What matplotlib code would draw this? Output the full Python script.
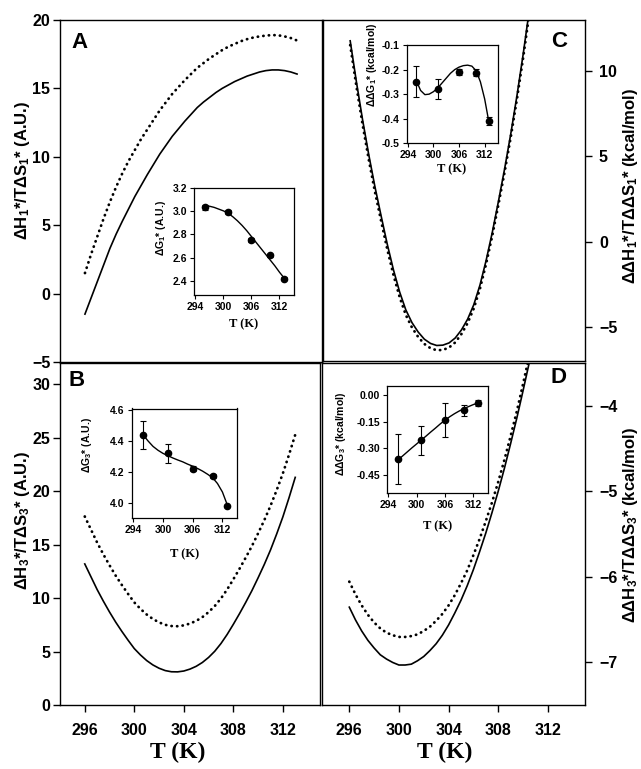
import matplotlib
matplotlib.use('Agg')
import matplotlib.pyplot as plt

plt.rcParams['font.family'] = ['Liberation Sans', 'DejaVu Sans']
plt.rcParams['font.weight'] = 'bold'
plt.rcParams['mathtext.fontset'] = 'custom'
plt.rcParams['mathtext.rm'] = 'Liberation Sans:bold'
plt.rcParams['mathtext.it'] = 'Liberation Sans:bold'
plt.rcParams['mathtext.bf'] = 'Liberation Sans:bold'
plt.rcParams['mathtext.default'] = 'rm'

# main curves, every half kelvin
T_ab = [296, 296.5, 297, 297.5, 298, 298.5, 299, 299.5, 300, 300.5, 301, 301.5, 302, 302.5,
        303, 303.5, 304, 304.5, 305, 305.5, 306, 306.5, 307, 307.5, 308, 308.5, 309, 309.5,
        310, 310.5, 311, 311.5, 312, 312.5, 313]
a_solid = [-1.5, -0.3, 0.9, 2.1, 3.3, 4.35, 5.3, 6.2, 7.1, 7.9, 8.7, 9.45, 10.2, 10.85,
           11.5, 12.05, 12.6, 13.1, 13.6, 14.0, 14.35, 14.7, 15.0, 15.25, 15.5, 15.7, 15.9, 16.05,
           16.2, 16.3, 16.35, 16.35, 16.3, 16.2, 16.05]
a_dot = [1.5, 2.9, 4.2, 5.5, 6.7, 7.8, 8.8, 9.7, 10.5, 11.3, 12.0, 12.7, 13.4, 14.0,
         14.6, 15.1, 15.6, 16.05, 16.5, 16.85, 17.2, 17.5, 17.8, 18.05, 18.25, 18.45, 18.6, 18.72,
         18.8, 18.86, 18.9, 18.88, 18.8, 18.68, 18.5]
b_solid = [13.2, 12.0, 10.8, 9.72, 8.7, 7.75, 6.88, 6.06, 5.28, 4.68, 4.16, 3.75, 3.44, 3.22,
           3.11, 3.1, 3.18, 3.36, 3.62, 3.98, 4.45, 5.03, 5.75, 6.6, 7.55, 8.55, 9.6, 10.7,
           11.9, 13.15, 14.5, 16.0, 17.6, 19.4, 21.3]
b_dot = [17.64, 16.42, 15.2, 14.1, 13.07, 12.1, 11.22, 10.39, 9.6, 8.99, 8.47, 8.05, 7.73, 7.5,
         7.39, 7.37, 7.45, 7.62, 7.87, 8.22, 8.69, 9.26, 9.97, 10.81, 11.76, 12.75, 13.79, 14.87,
         16.06, 17.29, 18.63, 20.1, 21.67, 23.43, 25.29]

T_cd = [296, 296.5, 297, 297.5, 298, 298.5, 299, 299.5, 300, 300.5, 301, 301.5, 302, 302.5,
        303, 303.5, 304, 304.5, 305, 305.5, 306, 306.5, 307, 307.5, 308, 308.5, 309, 309.5,
        310, 310.5, 311]
c_solid = [11.78, 9.39, 7.16, 5.11, 3.23, 1.52, -0.15, -1.65, -2.95, -4.0, -4.75, -5.3, -5.72, -5.97,
           -6.09, -6.07, -5.94, -5.65, -5.18, -4.55, -3.7, -2.55, -1.1, 0.55, 2.38, 4.29, 6.35, 8.59,
           11.01, 13.62, 16.4]
c_dot = [11.53, 9.12, 6.88, 4.82, 2.93, 1.22, -0.45, -1.95, -3.25, -4.3, -5.04, -5.59, -6.0, -6.25,
         -6.37, -6.35, -6.21, -5.91, -5.42, -4.78, -3.92, -2.76, -1.3, 0.36, 2.19, 4.1, 6.16, 8.39,
         10.8, 13.4, 16.15]
d_solid = [-6.36, -6.51, -6.64, -6.75, -6.84, -6.92, -6.97, -7.01, -7.04, -7.04, -7.03, -6.99, -6.94, -6.87,
           -6.79, -6.69, -6.57, -6.43, -6.28, -6.11, -5.92, -5.71, -5.49, -5.25, -5.00, -4.73, -4.44, -4.14,
           -3.82, -3.49, -3.14]
d_dot = [-6.06, -6.21, -6.34, -6.45, -6.54, -6.61, -6.66, -6.69, -6.71, -6.71, -6.70, -6.68, -6.64, -6.59,
         -6.52, -6.44, -6.34, -6.22, -6.08, -5.93, -5.75, -5.56, -5.35, -5.13, -4.89, -4.63, -4.35, -4.06,
         -3.74, -3.41, -3.07]

# inset data
T_pts = [296, 301, 306, 310, 313]
g1 = [3.03, 2.99, 2.75, 2.62, 2.42]
g1_err = [0.02, 0.015, 0.015, 0.015, 0.01]
g3 = [4.44, 4.32, 4.22, 4.175, 3.98]
g3_err = [0.09, 0.06, 0.015, 0.012, 0.008]
dg1 = [-0.25, -0.28, -0.21, -0.212, -0.41]
dg1_err = [0.063, 0.04, 0.013, 0.015, 0.015]
dg3 = [-0.36, -0.255, -0.14, -0.087, -0.046]
dg3_err = [0.14, 0.08, 0.094, 0.03, 0.018]

T_fit = [296, 297, 298, 299, 300, 301, 302, 303, 304, 305, 306, 307, 308, 309, 310, 311, 312, 313]
g1_fit = [3.04, 3.04, 3.03, 3.015, 3.0, 2.98, 2.95, 2.915, 2.875, 2.83, 2.78, 2.73, 2.68, 2.63, 2.58, 2.53, 2.475, 2.425]
g3_fit = [4.44, 4.40, 4.365, 4.34, 4.32, 4.305, 4.29, 4.277, 4.265, 4.25, 4.237, 4.222, 4.205, 4.185, 4.163, 4.125, 4.07, 3.985]
dg1_fit = [-0.245, -0.285, -0.302, -0.300, -0.290, -0.275, -0.255, -0.235, -0.215, -0.200, -0.19, -0.184, -0.182, -0.186, -0.205, -0.25, -0.32, -0.415]
dg3_fit = [-0.365, -0.343, -0.32, -0.297, -0.275, -0.253, -0.231, -0.208, -0.186, -0.163, -0.142, -0.123, -0.106, -0.091, -0.078, -0.066, -0.055, -0.046]

W, H = 641, 769
fig = plt.figure(figsize=(W / 100, H / 100), dpi=100)


def box(x0, y0, x1, y1):
    # pixel box (top-left origin) -> figure fraction
    return [x0 / W, 1 - y1 / H, (x1 - x0) / W, (y1 - y0) / H]


def main_axes(rect, xlim, ylim, yticks, right, xlabels):
    ax = fig.add_axes(rect)
    for s in ax.spines.values():
        s.set_linewidth(1.0)
    ax.set_xlim(*xlim)
    ax.set_ylim(*ylim)
    ax.set_yticks(yticks)
    if right:
        ax.yaxis.tick_right()
        ax.tick_params(axis='y', direction='out', length=5, width=1, labelsize=11.5, pad=5)
    else:
        ax.tick_params(axis='y', direction='out', length=5, width=1, labelsize=11.5, pad=2)
    if xlabels:
        ax.set_xticks([296, 300, 304, 308, 312])
        ax.tick_params(axis='x', direction='out', length=5, width=1, labelsize=11.5, pad=8)
    else:
        ax.set_xticks([])
    return ax


def curves(ax, t, solid, dot):
    ax.plot(t, dot, color='black', lw=2.0, linestyle=(0, (0.1, 1.9)), dash_capstyle='round')
    ax.plot(t, solid, color='black', lw=1.2)


def inset(rect, fit, pts, err, ylim, yticks, fmt, ylab, ylab_y, ylab_x, xlab_y):
    ax = fig.add_axes(rect)
    ax.set_facecolor('white')
    for s in ax.spines.values():
        s.set_linewidth(0.9)
    ax.plot(T_fit, fit, color='black', lw=1.0)
    ax.errorbar(T_pts, pts, yerr=err, fmt='o', color='black', ms=4.5,
                elinewidth=0.8, capsize=2.5, capthick=0.8)
    ax.set_xlim(293.7, 315)
    ax.set_ylim(*ylim)
    ax.set_xticks([294, 300, 306, 312])
    ax.set_yticks(yticks)
    ax.set_yticklabels([fmt % v for v in yticks])
    ax.tick_params(direction='out', length=3, width=0.8, labelsize=7.5, pad=2)
    ax.set_xlabel('T (K)', family='Liberation Serif', fontsize=9, fontweight='bold')
    ax.xaxis.set_label_coords(0.5, xlab_y)
    ax.set_ylabel(ylab, fontsize=7.5, fontweight='bold')
    ax.yaxis.set_label_coords(ylab_x, ylab_y)
    return ax


axA = main_axes(box(60, 20, 322, 362), (294, 315), (-5, 20), [-5, 0, 5, 10, 15, 20], False, False)
curves(axA, T_ab, a_solid, a_dot)
axB = main_axes(box(60, 363, 320, 705), (294, 315), (0, 32), [0, 5, 10, 15, 20, 25, 30], False, True)
curves(axB, T_ab, b_solid, b_dot)
axC = main_axes(box(323, 20, 585, 361), (293.8, 315), (-7, 13), [-5, 0, 5, 10], True, False)
curves(axC, T_cd, c_solid, c_dot)
axD = main_axes(box(322, 363, 585, 705), (293.8, 315), (-7.51, -3.49), [-7, -6, -5, -4], True, True)
curves(axD, T_cd, d_solid, d_dot)

inset(box(194, 187.5, 293.5, 295), g1_fit, g1, g1_err, (2.28, 3.2), [2.4, 2.6, 2.8, 3.0, 3.2], '%.1f',
      r'$\Delta$G$_1$* (A.U.)', 0.62, -0.26, -0.22)
inset(box(131.7, 408.5, 237.3, 518.3), g3_fit, g3, g3_err, (3.9, 4.61), [4.0, 4.2, 4.4, 4.6], '%.1f',
      r'$\Delta$G$_3$* (A.U.)', 0.67, -0.36, -0.27)
inset(box(406.5, 45, 497.5, 143.3), dg1_fit, dg1, dg1_err, (-0.5, -0.1), [-0.5, -0.4, -0.3, -0.2, -0.1], '%.1f',
      r'$\Delta\Delta$G$_1$* (kcal/mol)', 0.8, -0.3, -0.2)
inset(box(386.7, 385.7, 487.7, 493.3), dg3_fit, dg3, dg3_err, (-0.55, 0.05), [-0.45, -0.30, -0.15, 0.00], '%.2f',
      r'$\Delta\Delta$G$_3$* (kcal/mol)', 0.55, -0.38, -0.25)

# axis titles
fig.text(23 / W, 1 - 170 / H, r'$\Delta$H$_1$*/T$\Delta$S$_1$* (A.U.)', rotation=90,
         ha='center', va='center', fontsize=12)
fig.text(23 / W, 1 - 520 / H, r'$\Delta$H$_3$*/T$\Delta$S$_3$* (A.U.)', rotation=90,
         ha='center', va='center', fontsize=12)
fig.text(630 / W, 1 - 186 / H, r'$\Delta\Delta$H$_1$*/T$\Delta\Delta$S$_1$* (kcal/mol)', rotation=90,
         ha='center', va='center', fontsize=12)
fig.text(630 / W, 1 - 525 / H, r'$\Delta\Delta$H$_3$*/T$\Delta\Delta$S$_3$* (kcal/mol)', rotation=90,
         ha='center', va='center', fontsize=12)
fig.text(178 / W, 1 - 752 / H, 'T (K)', family='Liberation Serif', ha='center', va='center', fontsize=17)
fig.text(445 / W, 1 - 752 / H, 'T (K)', family='Liberation Serif', ha='center', va='center', fontsize=17)

# panel letters
for letter, x, y in [('A', 71, 32), ('B', 68, 370), ('C', 551, 31), ('D', 551, 367)]:
    fig.text(x / W, 1 - y / H, letter, ha='left', va='top', fontsize=16)

fig.savefig('out.png', dpi=100)
